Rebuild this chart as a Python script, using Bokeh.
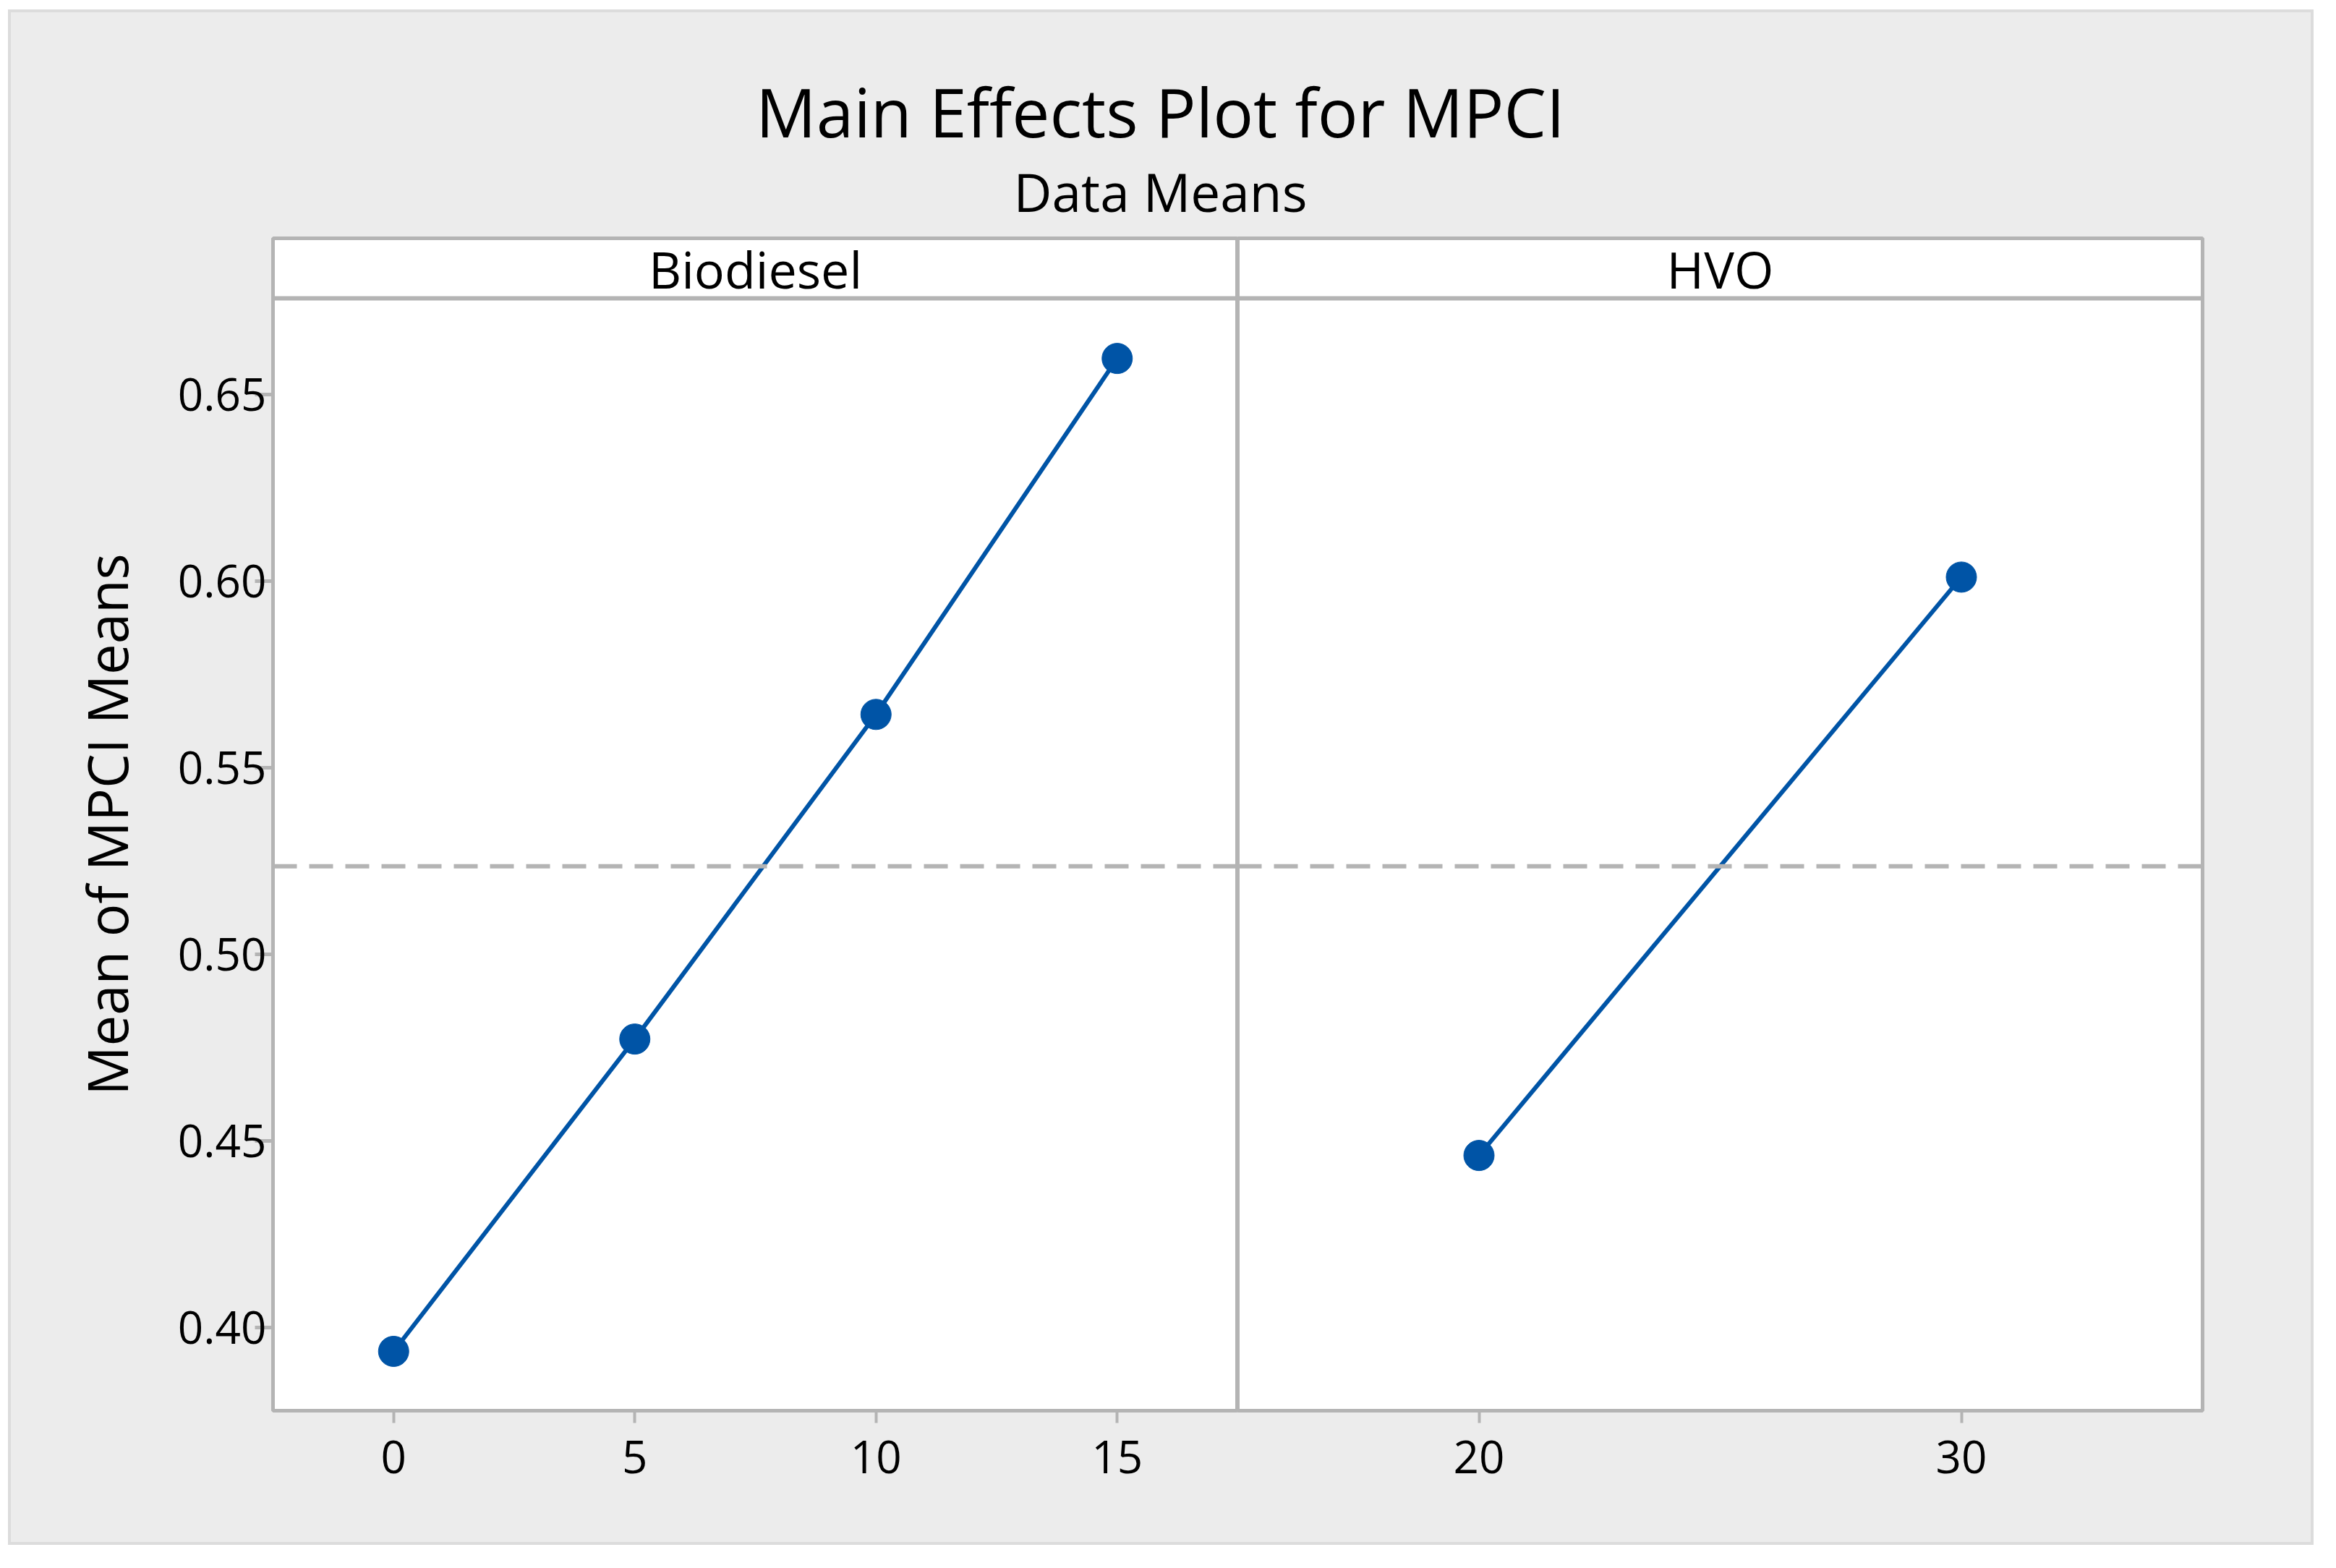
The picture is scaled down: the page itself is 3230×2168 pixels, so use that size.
from bokeh.plotting import figure
from bokeh.models import Range1d, FixedTicker, PrintfTickFormatter, Span, Label
from bokeh.layouts import row, column
from bokeh.embed import file_html
from bokeh.resources import INLINE

# ---------------- data ----------------
title_text = "Main Effects Plot for MPCI"
subtitle_text = "Data Means"
y_label = "Mean of MPCI Means"

panels = ["Biodiesel", "HVO"]
biodiesel_x = [0, 5, 10, 15]
biodiesel_y = [0.3936, 0.4773, 0.5643, 0.6597]
hvo_x = [20, 30]
hvo_y = [0.4461, 0.6011]
grand_mean = 0.5236

y_ticks = [0.40, 0.45, 0.50, 0.55, 0.60, 0.65]
biodiesel_ticks = [0, 5, 10, 15]
hvo_ticks = [20, 30]

# ---------------- style ----------------
FONT = "Open Sans"
BLUE = "#0054a6"
FRAME = "#b4b4b4"
BG = "#ececec"

Y_START, Y_END = 0.3777, 0.6919
STRIP_Y = 0.6758
W1, W2 = 1696, 1484
H_HEAD, H_PANEL = 300, 1815


def panel(width, xr, ticks, first):
    p = figure(width=width, height=H_PANEL, output_backend="svg", toolbar_location=None,
               x_range=xr, y_range=yr,
               x_axis_location="below", y_axis_location="left" if first else None,
               min_border_left=362 if first else 0, min_border_right=0 if first else 150,
               min_border_top=12, min_border_bottom=182)
    p.background_fill_color = "white"
    p.border_fill_color = BG
    p.outline_line_color = FRAME
    p.outline_line_width = 5
    p.xgrid.visible = False
    p.ygrid.visible = False
    xa = p.xaxis[0]
    xa.ticker = FixedTicker(ticks=ticks)
    xa.axis_line_color = None
    xa.major_tick_in = 0
    xa.major_tick_out = 17
    xa.major_tick_line_color = FRAME
    xa.major_tick_line_width = 4
    xa.minor_tick_line_color = None
    xa.major_label_text_font = FONT
    xa.major_label_text_font_size = "62px"
    xa.major_label_text_color = "black"
    xa.major_label_standoff = 24
    if first:
        ya = p.yaxis[0]
        ya.ticker = FixedTicker(ticks=y_ticks)
        ya.formatter = PrintfTickFormatter(format="%.2f")
        ya.axis_line_color = None
        ya.major_tick_in = 0
        ya.major_tick_out = 25
        ya.major_tick_line_color = FRAME
        ya.major_tick_line_width = 5
        ya.minor_tick_line_color = None
        ya.major_label_text_font = FONT
        ya.major_label_text_font_size = "62px"
        ya.major_label_text_color = "black"
        ya.major_label_standoff = -16
        ya.axis_label = y_label
        ya.axis_label_text_font = FONT
        ya.axis_label_text_font_size = "76px"
        ya.axis_label_text_font_style = "normal"
        ya.axis_label_text_color = "black"
        ya.axis_label_standoff = 44
    # strip separator and reference line
    p.add_layout(Span(location=STRIP_Y, dimension="width", line_color=FRAME, line_width=6))
    p.add_layout(Span(location=grand_mean, dimension="width", line_color=FRAME,
                      line_width=6, line_dash="33 17"))
    return p


yr = Range1d(Y_START, Y_END)
p1 = panel(W1, Range1d(-2.5, 17.5), biodiesel_ticks, True)
p2 = panel(W2, Range1d(15, 35), hvo_ticks, False)

for p, xs, ys, name in [(p1, biodiesel_x, biodiesel_y, panels[0]), (p2, hvo_x, hvo_y, panels[1])]:
    p.line(xs, ys, line_color=BLUE, line_width=6)
    p.scatter(xs, ys, size=42, fill_color=BLUE, line_color=BLUE)
    xc = (p.x_range.start + p.x_range.end) / 2
    p.add_layout(Label(x=xc, y=1579, y_units="screen", text=name, text_align="center",
                       text_baseline="alphabetic", text_font=FONT, text_font_size="70px",
                       text_color="black"))

head = figure(width=W1 + W2, height=H_HEAD, output_backend="svg", toolbar_location=None,
              x_range=Range1d(0, 1), y_range=Range1d(0, 1),
              x_axis_location=None, y_axis_location=None,
              min_border_left=0, min_border_right=0, min_border_top=0, min_border_bottom=0)
head.background_fill_color = BG
head.border_fill_color = BG
head.outline_line_color = None
head.xgrid.visible = False
head.ygrid.visible = False
head.add_layout(Label(x=1589, y=164, x_units="screen", y_units="screen", text=title_text,
                      text_align="center", text_baseline="alphabetic", text_font=FONT,
                      text_font_size="93px", text_color="black"))
head.add_layout(Label(x=1589, y=53, x_units="screen", y_units="screen", text=subtitle_text,
                      text_align="center", text_baseline="alphabetic", text_font=FONT,
                      text_font_size="73px", text_color="black"))

layout = column(head, row(p1, p2),
                styles={"border": "4px solid #dcdcdc", "background-color": BG,
                        "position": "relative", "left": "11px", "top": "13px"})

open("out.html", "w").write(file_html(layout, INLINE))
